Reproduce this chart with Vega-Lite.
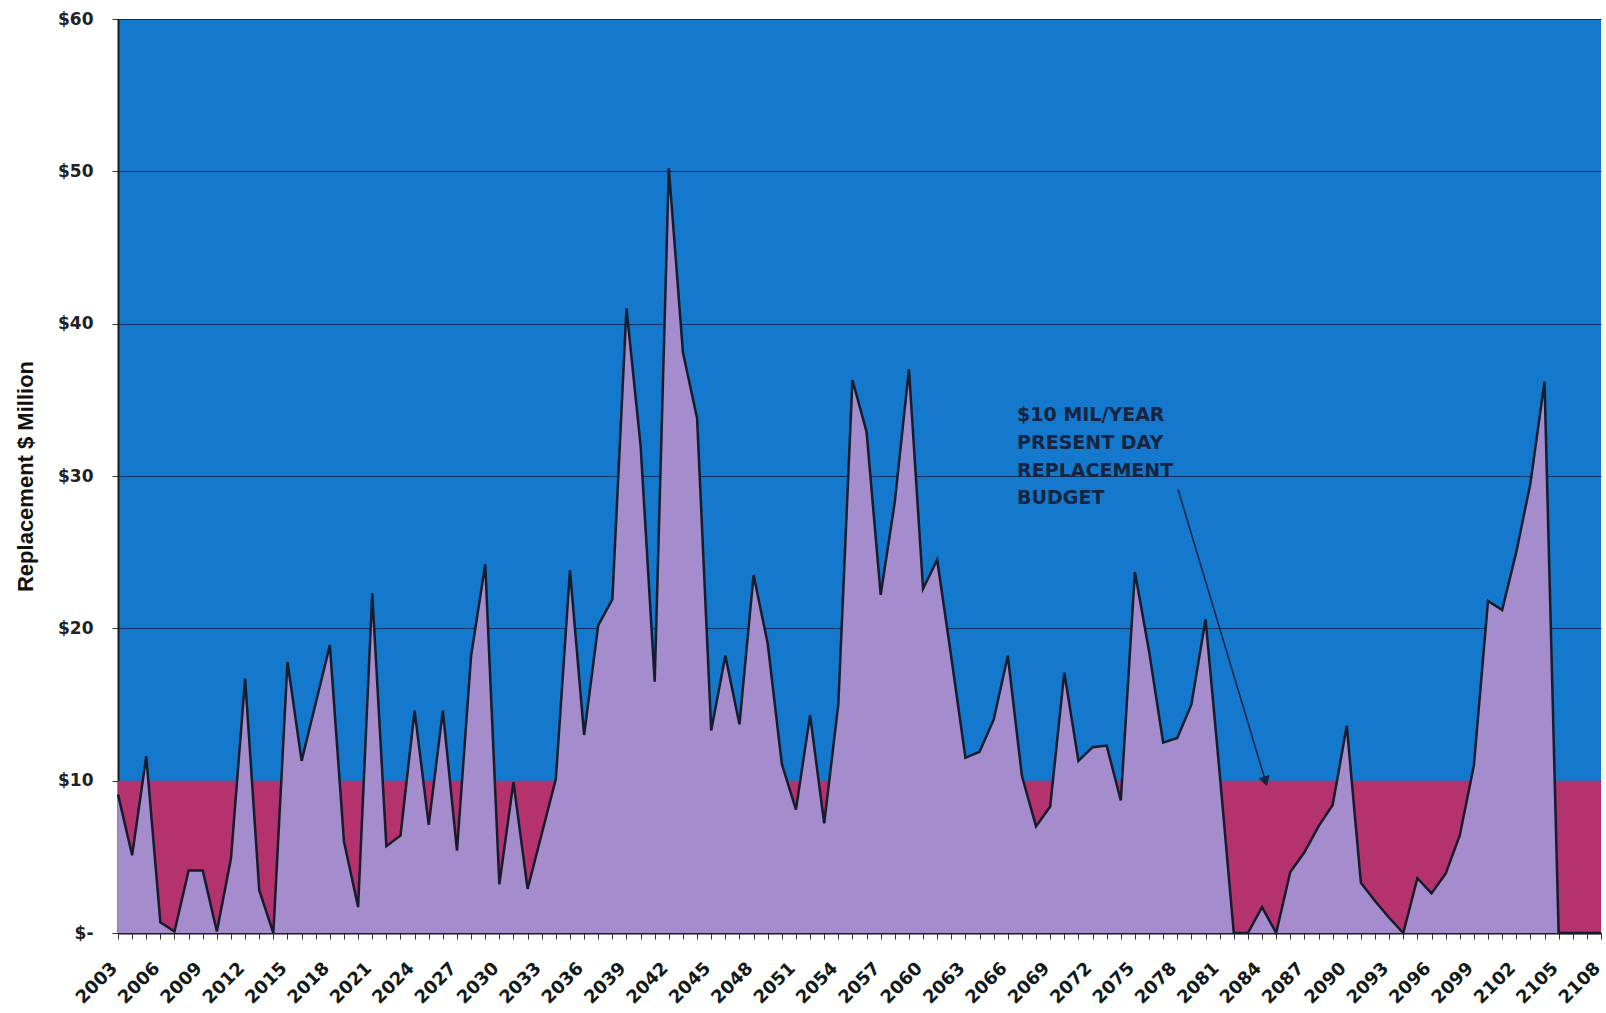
{
  "$schema": "https://vega.github.io/schema/vega-lite/v6.json",
  "autosize": "none",
  "width": 1483,
  "height": 914,
  "padding": {"left": 118, "top": 19, "right": 5, "bottom": 80},
  "background": "white",
  "config": {
    "view": {"fill": "#1478cc", "stroke": null},
    "font": "DejaVu Sans",
    "axisY": {
      "titleFont": "Liberation Sans",
      "titleFontSize": 22,
      "titleFontWeight": "bold",
      "titleColor": "#111111",
      "titlePadding": 20,
      "labelFont": "DejaVu Sans",
      "labelFontWeight": "bold",
      "labelFontSize": 17,
      "labelColor": "#222222",
      "labelPadding": 19,
      "tickSize": 6,
      "tickColor": "#333333",
      "domainColor": "#1a1a1a",
      "domainWidth": 2,
      "grid": true,
      "gridColor": "#0b3160",
      "gridWidth": 1.2
    }
  },
  "datasets": {
    "cost": [
      {"year": 2003, "cost": 9.1, "budget": 10},
      {"year": 2004, "cost": 5.1, "budget": 10},
      {"year": 2005, "cost": 11.6, "budget": 10},
      {"year": 2006, "cost": 0.7, "budget": 10},
      {"year": 2007, "cost": 0.1, "budget": 10},
      {"year": 2008, "cost": 4.1, "budget": 10},
      {"year": 2009, "cost": 4.1, "budget": 10},
      {"year": 2010, "cost": 0.1, "budget": 10},
      {"year": 2011, "cost": 4.9, "budget": 10},
      {"year": 2012, "cost": 16.7, "budget": 10},
      {"year": 2013, "cost": 2.8, "budget": 10},
      {"year": 2014, "cost": 0, "budget": 10},
      {"year": 2015, "cost": 17.8, "budget": 10},
      {"year": 2016, "cost": 11.3, "budget": 10},
      {"year": 2017, "cost": 15.1, "budget": 10},
      {"year": 2018, "cost": 18.9, "budget": 10},
      {"year": 2019, "cost": 6.0, "budget": 10},
      {"year": 2020, "cost": 1.7, "budget": 10},
      {"year": 2021, "cost": 22.3, "budget": 10},
      {"year": 2022, "cost": 5.7, "budget": 10},
      {"year": 2023, "cost": 6.4, "budget": 10},
      {"year": 2024, "cost": 14.6, "budget": 10},
      {"year": 2025, "cost": 7.1, "budget": 10},
      {"year": 2026, "cost": 14.6, "budget": 10},
      {"year": 2027, "cost": 5.4, "budget": 10},
      {"year": 2028, "cost": 18.2, "budget": 10},
      {"year": 2029, "cost": 24.2, "budget": 10},
      {"year": 2030, "cost": 3.2, "budget": 10},
      {"year": 2031, "cost": 9.9, "budget": 10},
      {"year": 2032, "cost": 2.9, "budget": 10},
      {"year": 2033, "cost": 6.5, "budget": 10},
      {"year": 2034, "cost": 10.1, "budget": 10},
      {"year": 2035, "cost": 23.8, "budget": 10},
      {"year": 2036, "cost": 13.0, "budget": 10},
      {"year": 2037, "cost": 20.2, "budget": 10},
      {"year": 2038, "cost": 21.9, "budget": 10},
      {"year": 2039, "cost": 41.0, "budget": 10},
      {"year": 2040, "cost": 32.0, "budget": 10},
      {"year": 2041, "cost": 16.5, "budget": 10},
      {"year": 2042, "cost": 50.2, "budget": 10},
      {"year": 2043, "cost": 38.1, "budget": 10},
      {"year": 2044, "cost": 33.8, "budget": 10},
      {"year": 2045, "cost": 13.3, "budget": 10},
      {"year": 2046, "cost": 18.2, "budget": 10},
      {"year": 2047, "cost": 13.7, "budget": 10},
      {"year": 2048, "cost": 23.5, "budget": 10},
      {"year": 2049, "cost": 19.0, "budget": 10},
      {"year": 2050, "cost": 11.1, "budget": 10},
      {"year": 2051, "cost": 8.1, "budget": 10},
      {"year": 2052, "cost": 14.3, "budget": 10},
      {"year": 2053, "cost": 7.2, "budget": 10},
      {"year": 2054, "cost": 15.0, "budget": 10},
      {"year": 2055, "cost": 36.3, "budget": 10},
      {"year": 2056, "cost": 32.9, "budget": 10},
      {"year": 2057, "cost": 22.2, "budget": 10},
      {"year": 2058, "cost": 28.3, "budget": 10},
      {"year": 2059, "cost": 37.0, "budget": 10},
      {"year": 2060, "cost": 22.6, "budget": 10},
      {"year": 2061, "cost": 24.5, "budget": 10},
      {"year": 2062, "cost": 18.1, "budget": 10},
      {"year": 2063, "cost": 11.5, "budget": 10},
      {"year": 2064, "cost": 11.9, "budget": 10},
      {"year": 2065, "cost": 14.0, "budget": 10},
      {"year": 2066, "cost": 18.2, "budget": 10},
      {"year": 2067, "cost": 10.3, "budget": 10},
      {"year": 2068, "cost": 7.0, "budget": 10},
      {"year": 2069, "cost": 8.3, "budget": 10},
      {"year": 2070, "cost": 17.1, "budget": 10},
      {"year": 2071, "cost": 11.3, "budget": 10},
      {"year": 2072, "cost": 12.2, "budget": 10},
      {"year": 2073, "cost": 12.3, "budget": 10},
      {"year": 2074, "cost": 8.7, "budget": 10},
      {"year": 2075, "cost": 23.7, "budget": 10},
      {"year": 2076, "cost": 18.5, "budget": 10},
      {"year": 2077, "cost": 12.5, "budget": 10},
      {"year": 2078, "cost": 12.8, "budget": 10},
      {"year": 2079, "cost": 15.0, "budget": 10},
      {"year": 2080, "cost": 20.6, "budget": 10},
      {"year": 2081, "cost": 10.5, "budget": 10},
      {"year": 2082, "cost": 0, "budget": 10},
      {"year": 2083, "cost": 0, "budget": 10},
      {"year": 2084, "cost": 1.7, "budget": 10},
      {"year": 2085, "cost": 0, "budget": 10},
      {"year": 2086, "cost": 4.0, "budget": 10},
      {"year": 2087, "cost": 5.3, "budget": 10},
      {"year": 2088, "cost": 7.0, "budget": 10},
      {"year": 2089, "cost": 8.4, "budget": 10},
      {"year": 2090, "cost": 13.6, "budget": 10},
      {"year": 2091, "cost": 3.3, "budget": 10},
      {"year": 2092, "cost": 2.1, "budget": 10},
      {"year": 2093, "cost": 1.0, "budget": 10},
      {"year": 2094, "cost": 0, "budget": 10},
      {"year": 2095, "cost": 3.6, "budget": 10},
      {"year": 2096, "cost": 2.6, "budget": 10},
      {"year": 2097, "cost": 3.9, "budget": 10},
      {"year": 2098, "cost": 6.4, "budget": 10},
      {"year": 2099, "cost": 11.0, "budget": 10},
      {"year": 2100, "cost": 21.8, "budget": 10},
      {"year": 2101, "cost": 21.2, "budget": 10},
      {"year": 2102, "cost": 25.0, "budget": 10},
      {"year": 2103, "cost": 29.5, "budget": 10},
      {"year": 2104, "cost": 36.2, "budget": 10},
      {"year": 2105, "cost": 0, "budget": 10},
      {"year": 2106, "cost": 0, "budget": 10},
      {"year": 2107, "cost": 0, "budget": 10},
      {"year": 2108, "cost": 0, "budget": 10}
    ],
    "notes": [
      {"year": 2066.66, "value": 34.0, "line": "$10 MIL/YEAR"},
      {"year": 2066.66, "value": 32.18, "line": "PRESENT DAY"},
      {"year": 2066.66, "value": 30.36, "line": "REPLACEMENT"},
      {"year": 2066.66, "value": 28.54, "line": "BUDGET"}
    ],
    "arrow": [
      {"year": 2078.06, "value": 29.1, "year2": 2084.25, "value2": 9.95}
    ]
  },
  "encoding": {
    "x": {
      "field": "year",
      "type": "quantitative",
      "scale": {"domain": [2003, 2108], "nice": false, "zero": false},
      "axis": {
        "title": null,
        "grid": false,
        "values": [2003,2004,2005,2006,2007,2008,2009,2010,2011,2012,2013,2014,2015,2016,2017,2018,2019,2020,2021,2022,2023,2024,2025,2026,2027,2028,2029,2030,2031,2032,2033,2034,2035,2036,2037,2038,2039,2040,2041,2042,2043,2044,2045,2046,2047,2048,2049,2050,2051,2052,2053,2054,2055,2056,2057,2058,2059,2060,2061,2062,2063,2064,2065,2066,2067,2068,2069,2070,2071,2072,2073,2074,2075,2076,2077,2078,2079,2080,2081,2082,2083,2084,2085,2086,2087,2088,2089,2090,2091,2092,2093,2094,2095,2096,2097,2098,2099,2100,2101,2102,2103,2104,2105,2106,2107,2108],
        "labelExpr": "(datum.value - 2003) % 3 == 0 ? '' + datum.value : ''",
        "labelAngle": -45,
        "labelFont": "DejaVu Sans",
        "labelFontWeight": "bold",
        "labelFontSize": 18,
        "labelColor": "#111a18",
        "labelPadding": 20,
        "labelOffset": -10,
        "labelOverlap": false,
        "labelFlush": false,
        "tickSize": 6,
        "tickColor": "#333333",
        "tickWidth": 1,
        "domainColor": "#1a1a1a",
        "domainWidth": 2
      }
    }
  },
  "layer": [
    {
      "data": {"name": "cost"},
      "mark": {"type": "area", "color": "#b4326e", "opacity": 1},
      "encoding": {
        "y": {
          "field": "budget",
          "type": "quantitative",
          "scale": {"domain": [0, 60], "nice": false},
          "axis": {
            "title": "Replacement $ Million",
            "values": [0, 10, 20, 30, 40, 50, 60],
            "labelExpr": "datum.value == 0 ? '$-' : '$' + datum.value"
          }
        }
      }
    },
    {
      "data": {"name": "cost"},
      "mark": {"type": "area", "color": "#a58ccd", "opacity": 1, "line": {"color": "#151c2c", "strokeWidth": 2.5}},
      "encoding": {
        "y": {
          "field": "cost",
          "type": "quantitative",
          "axis": {
            "title": "Replacement $ Million",
            "values": [0, 10, 20, 30, 40, 50, 60],
            "labelExpr": "datum.value == 0 ? '$-' : '$' + datum.value"
          }
        }
      }
    },
    {
      "data": {"name": "notes"},
      "mark": {"type": "text", "align": "left", "baseline": "middle", "font": "DejaVu Sans", "fontWeight": "bold", "fontSize": 19, "color": "#16243f"},
      "encoding": {
        "y": {
          "field": "value",
          "type": "quantitative",
          "axis": {
            "title": "Replacement $ Million",
            "values": [0, 10, 20, 30, 40, 50, 60],
            "labelExpr": "datum.value == 0 ? '$-' : '$' + datum.value"
          }
        },
        "text": {"field": "line", "type": "nominal"}
      }
    },
    {
      "data": {"name": "arrow"},
      "mark": {"type": "rule", "color": "#16243f", "strokeWidth": 1.5},
      "encoding": {
        "y": {
          "field": "value",
          "type": "quantitative",
          "axis": {
            "title": "Replacement $ Million",
            "values": [0, 10, 20, 30, 40, 50, 60],
            "labelExpr": "datum.value == 0 ? '$-' : '$' + datum.value"
          }
        },
        "x2": {"field": "year2"},
        "y2": {"field": "value2"}
      }
    },
    {
      "data": {"name": "arrow"},
      "mark": {"type": "point", "shape": "triangle-down", "filled": true, "size": 130, "angle": 343, "color": "#16243f", "opacity": 1},
      "encoding": {
        "x": {"field": "year2", "type": "quantitative"},
        "y": {
          "field": "value2",
          "type": "quantitative",
          "axis": {
            "title": "Replacement $ Million",
            "values": [0, 10, 20, 30, 40, 50, 60],
            "labelExpr": "datum.value == 0 ? '$-' : '$' + datum.value"
          }
        }
      }
    }
  ]
}
